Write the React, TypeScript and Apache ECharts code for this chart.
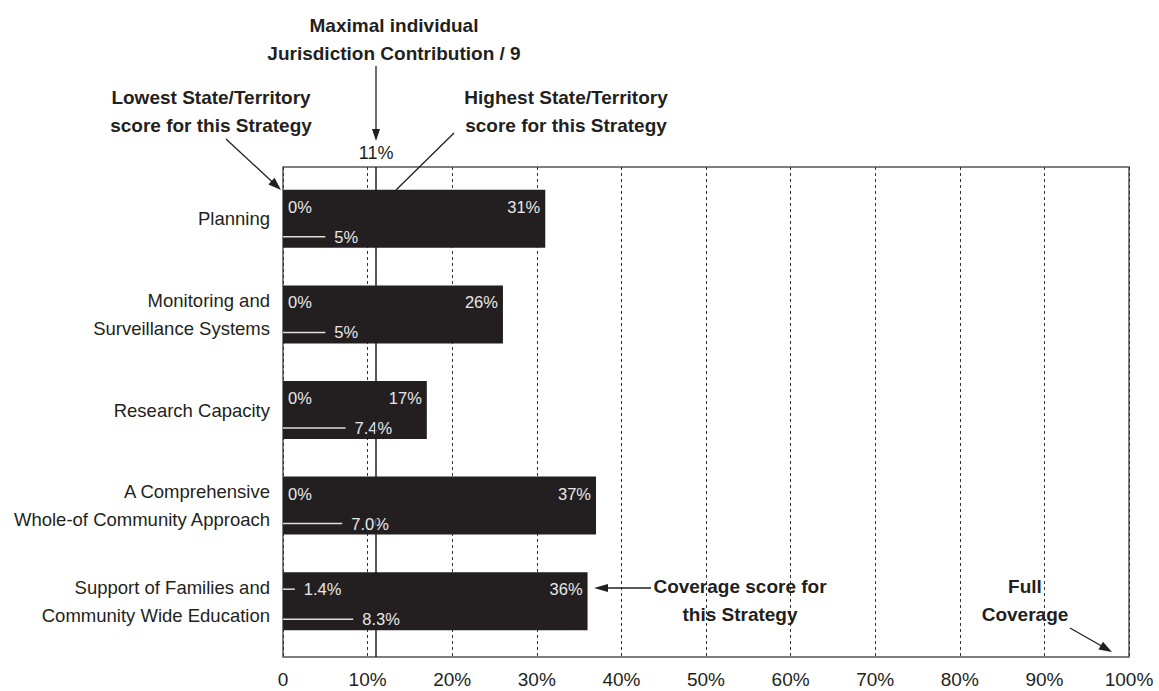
import React, { useEffect, useRef } from "react";
import * as echarts from "echarts";

const categories = [
  "Planning",
  "Monitoring and\nSurveillance Systems",
  "Research Capacity",
  "A Comprehensive\nWhole-of Community Approach",
  "Support of Families and\nCommunity Wide Education",
];
const coverage = [31, 26, 17, 37, 36];
const lowest = [0, 0, 0, 0, 1.4];
const lowestLabels = ["0%", "0%", "0%", "0%", "1.4%"];
const contribution = [5, 5, 7.4, 7.0, 8.3];
const contributionLabels = ["5%", "5%", "7.4%", "7.0%", "8.3%"];
const maxContribution = 11;
const maxContributionLabel = "11%";

const FONT = "'Liberation Sans', Arial, Helvetica, sans-serif";
const INK = "#231f20";

function arrow(x1: number, y1: number, x2: number, y2: number, len = 13, half = 4.5) {
  const dx = x2 - x1;
  const dy = y2 - y1;
  const d = Math.sqrt(dx * dx + dy * dy);
  const ux = dx / d;
  const uy = dy / d;
  const bx = x2 - ux * len;
  const by = y2 - uy * len;
  const px = -uy * half;
  const py = ux * half;
  return [
    {
      type: "line",
      z: 100,
      shape: { x1, y1, x2: bx + ux * 2, y2: by + uy * 2 },
      style: { stroke: INK, lineWidth: 1.3 },
    },
    {
      type: "polygon",
      z: 100,
      shape: { points: [[x2, y2], [bx + px, by + py], [bx - px, by - py]] },
      style: { fill: INK },
    },
  ];
}

function annot(text: string, x: number, y: number) {
  return {
    type: "text",
    z: 100,
    x,
    y,
    style: {
      text,
      fill: INK,
      fontFamily: FONT,
      fontWeight: "bold",
      fontSize: 19,
      lineHeight: 28,
      align: "center",
      verticalAlign: "middle",
    },
  };
}

export default function App() {
  const ref = useRef<HTMLDivElement>(null);
  useEffect(() => {
    if (!ref.current) return;
    const chart = echarts.init(ref.current, null, { renderer: "svg" });
    const whiskerData = categories.map((_, i) => [lowest[i], i, contribution[i]]);
    const option: any = {
      animation: false,
      backgroundColor: "#fff",
      textStyle: { fontFamily: FONT },
      grid: [
        {
          left: 283,
          right: 30,
          top: 167,
          bottom: 34,
          show: true,
          borderColor: "#555",
          borderWidth: 1.5,
          backgroundColor: "transparent",
          containLabel: false,
          outerBoundsMode: "none",
        },
        {
          left: 283,
          right: 30,
          top: 171,
          height: 478,
          containLabel: false,
          outerBoundsMode: "none",
        },
      ],
      xAxis: [
        {
          type: "value",
          gridIndex: 0,
          min: 0,
          max: 100,
          interval: 10,
          axisLine: { show: false },
          axisTick: { show: false },
          axisLabel: {
            fontSize: 19,
            color: INK,
            margin: 13,
            fontFamily: FONT,
            formatter: (v: number) => (v === 0 ? "0" : v + "%"),
          },
          splitLine: {
            show: true,
            lineStyle: { type: [3, 3], color: "#333", width: 1 },
          },
        },
        { type: "value", gridIndex: 1, min: 0, max: 100, show: false },
      ],
      yAxis: [
        { type: "value", gridIndex: 0, min: 0, max: 1, show: false },
        {
          type: "category",
          gridIndex: 1,
          inverse: true,
          data: categories,
          axisLine: { show: false },
          axisTick: { show: false },
          axisLabel: {
            fontSize: 18.5,
            lineHeight: 28,
            color: INK,
            margin: 13,
            fontFamily: FONT,
            align: "right",
          },
        },
      ],
      series: [
        {
          type: "line",
          xAxisIndex: 0,
          yAxisIndex: 0,
          data: [],
          z: 1,
          markLine: {
            silent: true,
            symbol: "none",
            lineStyle: { color: INK, width: 1.5, type: "solid" },
            label: {
              show: true,
              position: "end",
              formatter: maxContributionLabel,
              fontSize: 18,
              color: INK,
              distance: 5,
              fontFamily: FONT,
            },
            data: [{ xAxis: maxContribution }],
          },
        },
        {
          type: "bar",
          xAxisIndex: 1,
          yAxisIndex: 1,
          data: coverage,
          barWidth: 58,
          z: 3,
          itemStyle: { color: INK },
          label: {
            show: true,
            position: "insideRight",
            offset: [0, -12],
            distance: 5,
            color: "#e8e8e8",
            fontSize: 16.5,
            fontFamily: FONT,
            formatter: (p: any) => p.value + "%",
          },
        },
        {
          type: "custom",
          xAxisIndex: 1,
          yAxisIndex: 1,
          z: 4,
          data: whiskerData,
          encode: { x: [0, 2], y: 1 },
          renderItem: (params: any, api: any) => {
            const idx = api.value(1);
            const origin = api.coord([0, idx]);
            const x0 = origin[0];
            const yc = origin[1];
            const xl = api.coord([api.value(0), idx])[0];
            const xm = api.coord([api.value(2), idx])[0];
            const yTop = yc - 12;
            const yBot = yc + 18;
            const children: any[] = [];
            if (xl > x0 + 0.5) {
              children.push({
                type: "line",
                shape: { x1: x0, y1: yTop, x2: xl, y2: yTop },
                style: { stroke: "#ddd", lineWidth: 1.5 },
              });
            }
            children.push({
              type: "text",
              x: xl + (xl > x0 + 0.5 ? 9 : 5),
              y: yTop,
              style: {
                text: lowestLabels[params.dataIndex],
                fill: "#e8e8e8",
                fontSize: 16.5,
                fontFamily: FONT,
                align: "left",
                verticalAlign: "middle",
              },
            });
            children.push({
              type: "line",
              shape: { x1: x0, y1: yBot, x2: xm, y2: yBot },
              style: { stroke: "#ddd", lineWidth: 1.5 },
            });
            children.push({
              type: "text",
              x: xm + 9,
              y: yBot,
              style: {
                text: contributionLabels[params.dataIndex],
                fill: "#e8e8e8",
                fontSize: 16.5,
                fontFamily: FONT,
                align: "left",
                verticalAlign: "middle",
              },
            });
            return { type: "group", children };
          },
        },
      ],
      graphic: [
        annot("Maximal individual\nJurisdiction Contribution / 9", 394, 39),
        annot("Lowest State/Territory\nscore for this Strategy", 211, 111),
        annot("Highest State/Territory\nscore for this Strategy", 566, 111),
        annot("Coverage score for\nthis Strategy", 740, 600),
        annot("Full\nCoverage", 1025, 600),
        ...arrow(376, 66, 376, 141, 12, 4),
        ...arrow(226, 139, 281, 190, 13, 4.5),
        {
          type: "line",
          z: 100,
          shape: { x1: 454, y1: 133, x2: 396, y2: 190 },
          style: { stroke: INK, lineWidth: 1.3 },
        },
        ...arrow(651, 588, 594, 588, 14, 4),
        ...arrow(1070, 628, 1112, 652, 13, 4.5),
      ],
    };
    chart.setOption(option);
    return () => chart.dispose();
  }, []);
  return (
    <div
      ref={ref}
      style={{ position: "fixed", left: 0, top: 0, width: 1159, height: 691, background: "#fff" }}
    />
  );
}
